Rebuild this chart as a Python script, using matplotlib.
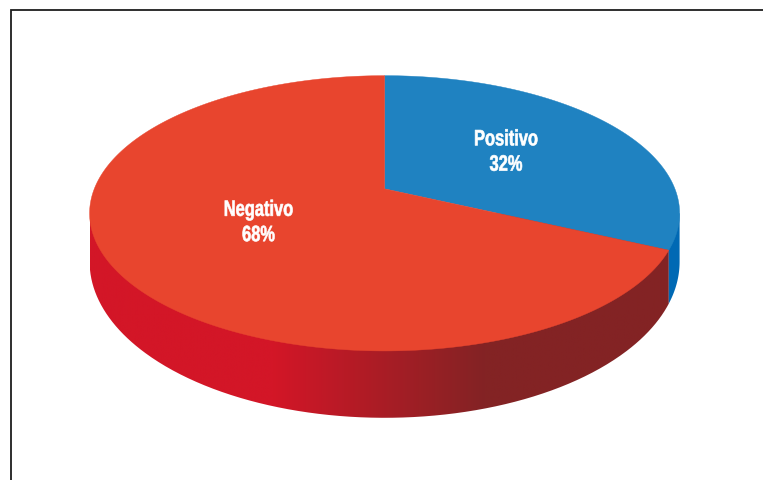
import numpy as np
import matplotlib
matplotlib.use("Agg")
import matplotlib.pyplot as plt
from matplotlib.patches import Polygon, PathPatch
from matplotlib.path import Path
from matplotlib.colors import LinearSegmentedColormap
from matplotlib.patheffects import AbstractPathEffect
from matplotlib.transforms import Affine2D

categories = ["Positivo", "Negativo"]
values = [32, 68]
top_colors = ["#1F82C1", "#E8452E"]
side_blue = "#0069B4"
grad_stops = [(0.0, "#D31627"), (0.316, "#D31627"), (0.68, "#832324"), (1.0, "#832324")]

W, H = 763, 481
fig = plt.figure(figsize=(W / 100, H / 100), dpi=100)
ax = fig.add_axes([0, 0, 1, 1])
ax.set_xlim(0, W)
ax.set_ylim(H, 0)
ax.axis("off")

# perspective projection of the pie disc
cx, apex_y, c, a, k = 384.6, 189.8, -0.178, 99.5, 290.3
# outer lower edge of the disc's side
rx, bot_cy, bot_ry, side_top = 295.0, 262.8, 156.0, 214.3


def proj(theta_deg):
    t = np.radians(theta_deg)
    u, v = np.sin(t), -np.cos(t)
    d = 1 + c * v
    return cx + k * u / d, (a * v + apex_y) / d


frac = np.cumsum([0] + values) / np.sum(values) * 360
edge_x, _ = proj(frac[1])


def side_outline(x0, x1):
    # the band between x0 and x1, closed along a line hidden under the top face
    s = np.linspace(np.arccos(np.clip((x0 - cx) / rx, -1, 1)),
                    np.arccos(np.clip((x1 - cx) / rx, -1, 1)), 400)
    xs = cx + rx * np.cos(s)
    ys = bot_cy + bot_ry * np.sin(s)
    return np.r_[[[x0, side_top]], np.c_[xs, ys], [[x1, side_top]]]


# red side with the horizontal gradient
xmin = cx - rx
red_pts = side_outline(xmin, edge_x)
cmap = LinearSegmentedColormap.from_list("side", grad_stops)
clip = PathPatch(Path(np.r_[red_pts, red_pts[:1]]), transform=ax.transData, fc="none", ec="none")
ax.add_patch(clip)
im = ax.imshow(np.linspace(0, 1, 1024)[None, :], cmap=cmap, vmin=0, vmax=1,
               extent=[xmin, edge_x, 430, 200], aspect="auto", zorder=1)
im.set_clip_path(clip)
ax.set_xlim(0, W)
ax.set_ylim(H, 0)

# blue side
ax.add_patch(Polygon(side_outline(edge_x, cx + rx), closed=True, fc=side_blue, ec="none", zorder=1))

# top faces
for i in range(len(values)):
    th = np.linspace(frac[i], frac[i + 1], 300)
    x, y = proj(th)
    pts = np.r_[[[cx, apex_y]], np.c_[x, y]]
    ax.add_patch(Polygon(pts, closed=True, fc=top_colors[i], ec=top_colors[i], lw=0.3, zorder=2))

# frame, open on the right and at the bottom
ax.plot([11.3, 11.3, W + 5], [H + 5, 11.3, 11.3], color="#1E1E1E", lw=1.3,
        solid_joinstyle="miter", zorder=3, clip_on=False)


class Narrow(AbstractPathEffect):
    """Squeezes the glyphs sideways about the text's centre and thickens them a little."""

    def __init__(self, xc, factor, stroke):
        super().__init__()
        self.xc, self.factor, self.stroke = xc, factor, stroke

    def draw_path(self, renderer, gc, tpath, affine, rgbFace=None):
        squeeze = Affine2D().translate(-self.xc, 0).scale(self.factor, 1).translate(self.xc, 0)
        gc0 = renderer.new_gc()
        gc0.copy_properties(gc)
        gc0.set_linewidth(self.stroke)
        gc0.set_foreground(rgbFace)
        renderer.draw_path(gc0, tpath, affine + squeeze, rgbFace)
        gc0.restore()


label_pos = [(506, 153.5), (258.5, 224)]
for name, val, (lx, ly) in zip(categories, values, label_pos):
    xc = ax.transData.transform((lx, ly))[0]
    t = ax.text(lx, ly, f"{name}\n{val}%", color="white", family="Liberation Sans", weight="bold",
                fontsize=16, ha="center", va="center", linespacing=1.27, zorder=4)
    t.set_path_effects([Narrow(xc, 0.74, 0.45)])

fig.savefig("out.png", dpi=100)
